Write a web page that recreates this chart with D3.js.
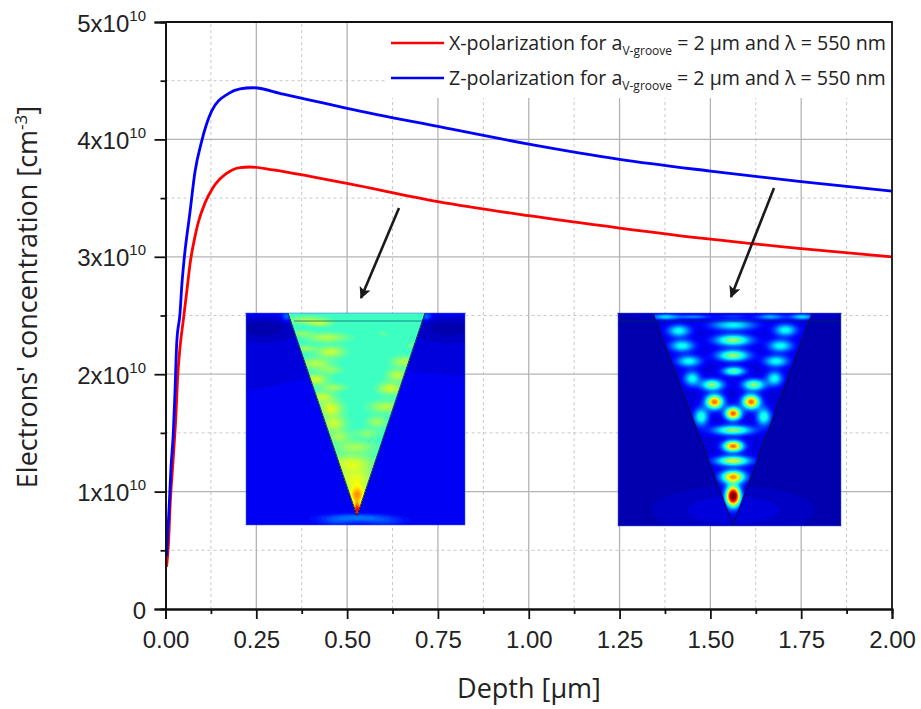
<!DOCTYPE html>
<html>
<head>
<meta charset="utf-8">
<script src="https://cdn.jsdelivr.net/npm/d3@7"></script>
<style>
  html, body { margin: 0; background: #fff; }
  svg { display: block; }
  .tick-num { font-family: "Liberation Sans", Arial, sans-serif; fill: #222; }
  .label { font-family: "Open Sans", sans-serif; fill: #222; }
</style>
</head>
<body>
<script>
'use strict';

// curves (depth in um, concentration in 1e10 cm-3)
const xPolDepth = [0.003, 0.008, 0.013, 0.021, 0.028, 0.034, 0.04, 0.049, 0.058, 0.069, 0.081, 0.09, 0.109, 0.131, 0.168, 0.205, 0.233, 0.296, 0.398, 0.5, 0.75, 1.0, 1.25, 1.5, 1.75, 2.0];
const xPolConc = [0.36, 0.55, 0.9, 1.27, 1.61, 2.0, 2.23, 2.46, 2.69, 2.97, 3.17, 3.29, 3.46, 3.59, 3.71, 3.76, 3.765, 3.74, 3.685, 3.625, 3.47, 3.35, 3.245, 3.15, 3.07, 3.0];
const zPolDepth = [0.003, 0.0105, 0.015, 0.0215, 0.026, 0.031, 0.04, 0.045, 0.051, 0.067, 0.081, 0.1, 0.127, 0.173, 0.205, 0.241, 0.324, 0.398, 0.5, 0.75, 1.0, 1.25, 1.5, 1.75, 2.0];
const zPolConc = [0.45, 0.9, 1.2, 1.5, 1.84, 2.27, 2.52, 2.76, 2.97, 3.37, 3.72, 3.99, 4.24, 4.39, 4.43, 4.44, 4.385, 4.335, 4.265, 4.11, 3.96, 3.83, 3.73, 3.64, 3.56];

const xMajor = [0, 0.25, 0.5, 0.75, 1, 1.25, 1.5, 1.75, 2];
const xMinor = [0.125, 0.375, 0.625, 0.875, 1.125, 1.375, 1.625, 1.875];
const yMajor = [0, 1, 2, 3, 4, 5];
const yMinor = [0.5, 1.5, 2.5, 3.5, 4.5];

const legendNames = ['X-polarization', 'Z-polarization'];
const legendColors = ['#ff0000', '#0000ff'];

// heat map spots, in inset units: [cx, cy, rx, ry, amplitude]
const xInsideBase = 0.425;
const xInsideSpots = [
  [182, 20, 50, 10, 0.1], [222, 30, 30, 8, 0.1], [242, 72, 50, 12, 0.12], [167, 60, 25, 8, 0.08],
  [177, 105, 25, 8, 0.1], [252, 115, 35, 14, 0.14], [207, 150, 40, 14, 0.12], [252, 170, 30, 10, 0.08],
  [207, 198, 30, 14, 0.15], [262, 222, 30, 10, 0.1], [227, 250, 30, 14, 0.13], [252, 285, 30, 20, 0.16],
  [262, 330, 30, 20, 0.14], [277, 370, 30, 15, 0.1], [327, 400, 50, 15, 0.1], [312, 450, 60, 25, 0.15],
  [327, 500, 50, 28, 0.16], [332, 545, 22, 22, 0.28], [332, 590, 10, 20, 0.45],
  [472, 145, 30, 14, 0.12], [452, 185, 25, 15, 0.13], [432, 225, 30, 15, 0.15], [417, 280, 40, 15, 0.12],
  [392, 325, 25, 14, 0.1], [362, 360, 30, 12, 0.08], [492, 95, 12, 6, 0.06], [410, 60, 10, 6, 0.05]
];
const xOutsideBase = 0.1;
const xOutsideSpots = [
  [50, 45, 110, 40, -0.05], [610, 45, 110, 40, -0.05], [50, 0, 120, 14, 0.03], [610, 0, 120, 14, 0.03],
  [120, 10, 12, 12, 0.12], [540, 10, 12, 10, 0.12],
  [332, 612, 90, 10, 0.13], [270, 625, 50, 10, 0.07], [410, 625, 60, 10, 0.07], [450, 360, 110, 60, 0.015]
];
const zInsideBase = 0.09;
const zInsideSpots = [
  [141, 10, 35, 7, 0.25], [226, 10, 40, 5, 0.17], [345, 8, 40, 4, 0.08], [456, 10, 35, 7, 0.2], [551, 10, 30, 7, 0.25],
  [181, 52, 28, 15, 0.3], [344, 35, 55, 13, 0.28], [501, 50, 28, 15, 0.3],
  [191, 97, 30, 15, 0.3], [344, 80, 45, 14, 0.43], [486, 97, 30, 15, 0.3],
  [211, 143, 30, 14, 0.3], [344, 126, 40, 14, 0.43], [473, 143, 30, 14, 0.3],
  [221, 195, 20, 18, 0.3], [346, 173, 28, 11, 0.38], [468, 195, 20, 18, 0.3],
  [281, 214, 28, 14, 0.42], [406, 214, 28, 14, 0.42],
  [288, 265, 22, 18, 0.68], [398, 265, 22, 18, 0.68],
  [344, 300, 20, 16, 0.7],
  [248, 310, 18, 22, 0.33], [436, 310, 18, 22, 0.33],
  [344, 350, 48, 12, 0.42],
  [344, 398, 25, 14, 0.68],
  [344, 442, 42, 12, 0.5],
  [344, 490, 30, 16, 0.63],
  [344, 548, 18, 26, 1.0]
];
const zOutsideBase = 0.05;
const zOutsideSpots = [
  [344, 590, 170, 50, 0.05], [120, 8, 80, 8, 0.03], [590, 8, 60, 8, 0.03]
];

const width = 921, height = 709;
const x = d3.scaleLinear().domain([0, 2]).range([165.5, 892]);
const y = d3.scaleLinear().domain([0, 5]).range([609, 22]);

const svg = d3.select('body').append('svg').attr('width', width).attr('height', height);

// grid first so everything else sits over it
const gridMajor = '#b4b4b4', gridMinor = '#c8c8c8';
svg.append('g').selectAll('line').data(xMinor).join('line')
  .attr('x1', d => x(d)).attr('x2', d => x(d)).attr('y1', y(0)).attr('y2', y(5))
  .attr('stroke', gridMinor).attr('stroke-width', 1).attr('stroke-dasharray', '3 3');
svg.append('g').selectAll('line').data(yMinor).join('line')
  .attr('y1', d => y(d)).attr('y2', d => y(d)).attr('x1', x(0)).attr('x2', x(2))
  .attr('stroke', gridMinor).attr('stroke-width', 1).attr('stroke-dasharray', '3 3');
svg.append('g').selectAll('line').data(xMajor.slice(1, -1)).join('line')
  .attr('x1', d => x(d)).attr('x2', d => x(d)).attr('y1', y(0)).attr('y2', y(5))
  .attr('stroke', gridMajor).attr('stroke-width', 1.3);
svg.append('g').selectAll('line').data(yMajor.slice(1, -1)).join('line')
  .attr('y1', d => y(d)).attr('y2', d => y(d)).attr('x1', x(0)).attr('x2', x(2))
  .attr('stroke', gridMajor).attr('stroke-width', 1.3);

// legend box hides the grid behind it
svg.append('rect').attr('x', 386).attr('y', 23).attr('width', 505).attr('height', 75).attr('fill', '#fff');

// curves
const line = d3.line().x(d => x(d[0])).y(d => y(d[1])).curve(d3.curveMonotoneX);
svg.append('path').datum(d3.zip(xPolDepth, xPolConc)).attr('d', line)
  .attr('fill', 'none').attr('stroke', legendColors[0]).attr('stroke-width', 2.8);
svg.append('path').datum(d3.zip(zPolDepth, zPolConc)).attr('d', line)
  .attr('fill', 'none').attr('stroke', legendColors[1]).attr('stroke-width', 2.8);

// frame and axes
svg.append('path').attr('d', `M${x(0)},${y(5)}H${x(2)}V${y(0)}`)
  .attr('fill', 'none').attr('stroke', '#111').attr('stroke-width', 1.8);

const xAxis = svg.append('g').attr('transform', `translate(0,${y(0)})`)
  .call(d3.axisBottom(x).tickValues(xMajor).tickSize(10).tickPadding(12).tickFormat(d3.format('.2f')));
xAxis.selectAll('text').attr('class', 'tick-num').attr('font-size', 24);
const xAxisMinor = svg.append('g').attr('transform', `translate(0,${y(0)})`)
  .call(d3.axisBottom(x).tickValues(xMinor).tickSize(5).tickFormat(''));
const yAxis = svg.append('g').attr('transform', `translate(${x(0)},0)`)
  .call(d3.axisLeft(y).tickValues(yMajor).tickSize(11).tickFormat(''));
const yAxisMinor = svg.append('g').attr('transform', `translate(${x(0)},0)`)
  .call(d3.axisLeft(y).tickValues(yMinor).tickSize(5).tickFormat(''));
[xAxis, xAxisMinor, yAxis, yAxisMinor].forEach(a => {
  a.selectAll('path,line').attr('stroke', '#111').attr('stroke-width', 1.8);
  a.attr('font-family', null);
});

// y tick labels are 5x10^10 style, so built by hand
const yLabels = svg.append('g').selectAll('text').data(yMajor).join('text')
  .attr('class', 'tick-num').attr('text-anchor', 'end')
  .attr('x', 146)
  .attr('y', d => y(d) + 9.5)
  .attr('font-size', 24);
yLabels.filter(d => d > 0).each(function(d) {
  const t = d3.select(this);
  t.append('tspan').text(d + 'x10');
  t.append('tspan').attr('dy', -11).attr('font-size', 15).text('10');
});
yLabels.filter(d => d === 0).text('0');

// axis titles
svg.append('text').attr('class', 'label').attr('x', 529).attr('y', 698)
  .attr('text-anchor', 'middle').attr('font-size', 27).text('Depth [\u00b5m]');
const yTitle = svg.append('text').attr('class', 'label')
  .attr('transform', 'translate(37,297)rotate(-90)').attr('text-anchor', 'middle').attr('font-size', 27);
yTitle.append('tspan').text("Electrons' concentration [cm");
yTitle.append('tspan').attr('dy', -10).attr('font-size', 17).text('-3');
yTitle.append('tspan').attr('dy', 10).text(']');

// legend
legendNames.forEach((name, i) => {
  const ly = 43 + i * 35;
  svg.append('line').attr('x1', 391).attr('x2', 444).attr('y1', ly).attr('y2', ly)
    .attr('stroke', legendColors[i]).attr('stroke-width', 2.4);
  const t = svg.append('text').attr('class', 'label').attr('x', 449).attr('y', ly + 7).attr('font-size', 19.6);
  t.append('tspan').text(name + ' for a');
  t.append('tspan').attr('dy', 5).attr('font-size', 12).text('V-groove');
  t.append('tspan').attr('dy', -5).text(' = 2 \u00b5m and \u03bb = 550 nm');
});

// jet colours for the field plots
const jet = d3.scaleLinear()
  .domain([0, 0.11, 0.36, 0.61, 0.86, 1])
  .range(['#00007f', '#0000ff', '#00ffff', '#ffff00', '#ff0000', '#7f0000'])
  .clamp(true);

function field(base, spots, w, h) {
  const values = new Float64Array(w * h);
  for (let j = 0; j < h; j++) {
    for (let i = 0; i < w; i++) {
      let v = base;
      // units are thirds of a pixel
      spots.forEach(s => {
        const dx = (i * 3 - s[0]) / (s[2] * 0.8), dy = (j * 3 - s[1]) / (s[3] * 0.8);
        v += s[4] * Math.exp(-0.5 * (dx * dx + dy * dy));
      });
      values[i + j * w] = v;
    }
  }
  return values;
}

function drawInset(id, box, tri, insideBase, insideSpots, outsideBase, outsideSpots, ridgeY) {
  const w = box.w, h = box.h;
  const g = svg.append('g').attr('transform', `translate(${box.x},${box.y})`);
  const clipId = 'tri' + id;
  const triPts = tri.map(p => p.join(',')).join(' ');
  g.append('clipPath').attr('id', clipId).append('polygon').attr('points', triPts);
  const thresholds = d3.range(-0.02, 1.02, 0.02);
  const path = d3.geoPath();
  const contours = d3.contours().size([w, h]).thresholds(thresholds);
  const outer = g.append('g');
  outer.append('rect').attr('width', w).attr('height', h).attr('fill', jet(0));
  outer.selectAll('path').data(contours(field(outsideBase, outsideSpots, w, h))).join('path')
    .attr('d', path).attr('fill', d => jet(d.value));
  const inner = g.append('g').attr('clip-path', `url(#${clipId})`);
  inner.selectAll('path').data(contours(field(insideBase, insideSpots, w, h))).join('path')
    .attr('d', path).attr('fill', d => jet(d.value));
  g.append('polyline').attr('points', [tri[0], tri[2], tri[1]].map(p => p.join(',')).join(' '))
    .attr('fill', 'none').attr('stroke', '#101040').attr('stroke-width', 0.9);
  g.append('line').attr('x1', ridgeY[0]).attr('x2', ridgeY[1]).attr('y1', ridgeY[2]).attr('y2', ridgeY[2])
    .attr('stroke', '#003060').attr('stroke-opacity', 0.6).attr('stroke-width', 1);
  g.append('rect').attr('width', w).attr('height', h).attr('fill', 'none')
    .attr('stroke', '#4060f0').attr('stroke-opacity', 0.5).attr('stroke-width', 1);
}

drawInset('x', { x: 246, y: 313, w: 219, h: 212 }, [[42, 0], [179, 0], [111, 203]],
  xInsideBase, xInsideSpots, xOutsideBase, xOutsideSpots, [48, 178, 8]);
drawInset('z', { x: 618, y: 313, w: 223, h: 213 }, [[35, 0], [194, 0], [115, 212]],
  zInsideBase, zInsideSpots, zOutsideBase, zOutsideSpots, [0, 223, 8]);

// arrows pointing from the curves to the field plots
const arrowFrom = [[399, 208], [774, 188]];
const arrowTo = [[361, 298], [731, 297]];
const defs = svg.append('defs');
defs.append('marker').attr('id', 'head').attr('viewBox', '0 0 10 10').attr('refX', 9).attr('refY', 5)
  .attr('markerWidth', 5.5).attr('markerHeight', 4.5).attr('orient', 'auto')
  .append('path').attr('d', 'M0,0L10,5L0,10L2,5Z').attr('fill', '#1a1a1a');
svg.append('g').selectAll('line').data(d3.zip(arrowFrom, arrowTo)).join('line')
  .attr('x1', d => d[0][0]).attr('y1', d => d[0][1]).attr('x2', d => d[1][0]).attr('y2', d => d[1][1])
  .attr('stroke', '#1a1a1a').attr('stroke-width', 2.6).attr('marker-end', 'url(#head)');
</script>
</body>
</html>
